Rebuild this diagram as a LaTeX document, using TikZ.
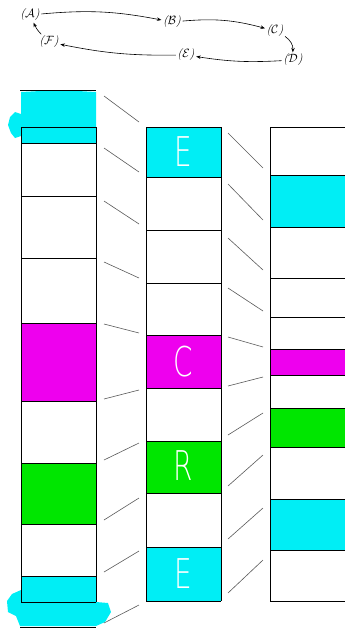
\documentclass[tikz,border=0pt]{standalone}
\usepackage{fontspec}
\newfontfamily\thinsans{DejaVu Sans ExtraLight}
\usetikzlibrary{arrows.meta}

\definecolor{cellcyan}{RGB}{0,238,245}
\definecolor{cellmagenta}{RGB}{238,0,238}
\definecolor{cellgreen}{RGB}{0,230,0}

\begin{document}
\begin{tikzpicture}[x=1pt,y=-1pt,
cycle arrow/.style={-{Stealth[length=4.5pt,width=3.5pt]}, line width=0.6pt},
tag/.style={inner sep=1.5pt, font=\large\itshape},
link/.style={draw=black!65, line width=0.6pt},
rule/.style={draw=black, line width=0.9pt},
letter/.style={text=white, font=\thinsans\fontsize{41}{41}\selectfont, xscale=0.68, inner sep=0pt}
]
\useasboundingbox (0,0) rectangle (345,629);

% the cycle of tags at the top
\node[tag] (A) at (30,15) {($\mathcal{A}$)};
\node[tag] (B) at (172,22) {($\mathcal{B}$)};
\node[tag] (C) at (275,31) {($\mathcal{C}$)};
\node[tag] (D) at (293,60) {($\mathcal{D}$)};
\node[tag] (E) at (186,55) {($\mathcal{E}$)};
\node[tag] (F) at (49,42) {($\mathcal{F}$)};

\draw[cycle arrow] (A) to[bend left=8] (B);
\draw[cycle arrow] (B) to[bend left=10] (C);
\draw[cycle arrow] (C) to[bend left=30] (D);
\draw[cycle arrow] (D) to[bend left=6] (E);
\draw[cycle arrow] (E) to[bend left=6] (F);
\draw[cycle arrow] (F) to[bend left=10] (A);

% left column
\fill[cellcyan] (21,92) -- (60,90) -- (96,92) -- (96,143) -- (21,143) -- (21,136)
  -- (15,138) -- (11,133) -- (8,125) -- (10,117) -- (15,112) -- (21,114) -- cycle;
\fill[cellmagenta] (21,323) rectangle (96,401);
\fill[cellgreen] (21,463) rectangle (96,524);
\fill[cellcyan] (21,576) rectangle (96,602);
\fill[cellcyan] (21,590) -- (21,602) -- (96,602) -- (108,603) -- (111,612) -- (105,622)
  -- (96,626) -- (20,626) -- (16,616) -- (8,612) -- (7,601) -- (12,594) -- cycle;
\draw[rule] (20,90) -- (96,90);
\draw[rule] (20,627) -- (96,627);
\draw[rule] (21,127) -- (21,602);
\draw[rule] (96,127) -- (96,602);
\foreach \y in {127,143,196,258,323,401,463,524,576,602}
  \draw[rule] (21,\y) -- (96,\y);

% middle column
\fill[cellcyan] (146,127) rectangle (221,177);
\fill[cellmagenta] (146,335) rectangle (221,388);
\fill[cellgreen] (146,441) rectangle (221,493);
\fill[cellcyan] (146,547) rectangle (221,601);
\draw[rule] (146,127) -- (146,601);
\draw[rule] (221,127) -- (221,601);
\foreach \y in {127,177,230,283,335,388,441,493,547,601}
  \draw[rule] (146,\y) -- (221,\y);
\node[letter] (e1) at (183.5,152) {E};
\node[letter] (c1) at (183.5,362) {C};
\node[letter] (r1) at (183.5,466) {R};
\node[letter] (e2) at (183.5,574) {E};

% right column
\fill[cellcyan] (270,175) rectangle (345,227);
\fill[cellmagenta] (270,349) rectangle (345,375);
\fill[cellgreen] (270,408) rectangle (345,447);
\fill[cellcyan] (270,499) rectangle (345,550);
\draw[rule] (270,127) -- (270,601);
\foreach \y in {127,175,227,278,317,349,375,408,447,499,550,601}
  \draw[rule] (270,\y) -- (345,\y);

% links between the columns
\foreach \a/\b in {96/122,148/172,201/224,262/278,324/333,399/390,460/443,520/498,572/551,623/605}
  \draw[link] (104,\a) -- (139,\b);
\foreach \a/\b in {133/168,184/220,238/270,288/311,337/347,386/377,435/413,486/455,539/508,593/560}
  \draw[link] (228,\a) -- (263,\b);
\end{tikzpicture}
\end{document}
